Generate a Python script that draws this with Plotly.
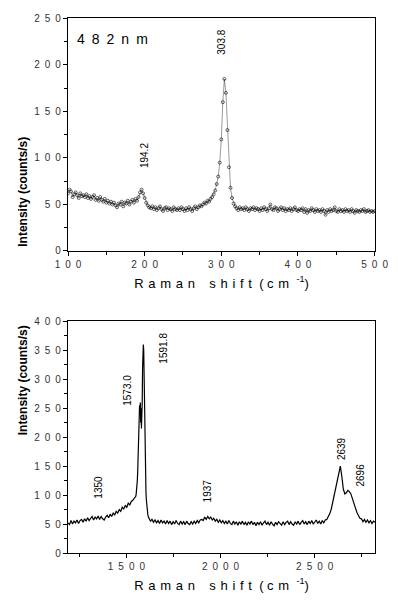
import plotly.graph_objects as go

# ---------------- data: top panel (482 nm) ----------------
top_x = list(range(100, 501, 2))
top_y = [
    62, 66, 64, 58, 61, 63, 60, 57, 62, 59, 60, 58, 61, 57, 59, 56, 58, 60, 55, 57, 54, 58, 55, 53, 56,
    52, 54, 51, 53, 50, 52, 49, 47, 51, 50, 53, 48, 52, 51, 54, 50, 53, 55, 52, 56, 54, 58, 63, 66, 62,
    57, 52, 49, 47, 46, 48, 45, 47, 44, 46, 48, 45, 43, 46, 47, 44, 46, 45, 43, 47, 45, 44, 46, 44, 47,
    45, 43, 46, 44, 47, 45, 43, 46, 48, 45, 47, 49, 48, 50, 52, 51, 54, 53, 56, 58, 61, 65, 72, 80, 95,
    120, 160, 185, 170, 130, 90, 68, 57, 51, 48, 46, 44, 47, 45, 46, 44, 47, 45, 43, 46, 45, 47, 44, 46, 45,
    43, 46, 44, 47, 45, 43, 46, 50, 45, 44, 47, 46, 43, 45, 47, 44, 46, 43, 45, 44, 46, 43, 45, 47, 44,
    43, 45, 44, 46, 42, 45, 41, 44, 43, 46, 44, 42, 45, 43, 44, 42, 45, 43, 39, 44, 42, 45, 43, 44, 47,
    43, 42, 45, 43, 44, 42, 45, 43, 44, 42, 45, 43, 41, 44, 43, 42, 44, 43, 45, 42, 43, 44, 42, 43, 42, 43,
]

# ---------------- data: bottom panel ----------------
bot_x = list(range(1190, 1543, 8)) + list(range(1550, 1619, 2)) + list(range(1620, 2821, 8))
bot_y = [
    # 1190 - 1542
    52, 49, 56, 50, 55, 52, 57, 51, 56, 58, 53, 59, 55, 61, 56, 60, 63, 57, 62, 59, 64, 58, 63,
    59, 57, 62, 65, 61, 67, 63, 69, 66, 72, 69, 75, 72, 79, 76, 82, 79, 86, 83, 89, 91, 94,
    # 1550 - 1618
    98, 102, 108, 115, 125, 140, 165, 200, 230, 248, 255, 240, 260, 225, 250, 215, 230, 260,
    320, 340, 360, 350, 310, 250, 190, 150, 125, 105, 92, 82, 75, 70, 66, 63, 61,
    # 1620 - 2820
    59, 55, 58, 53, 57, 52, 56, 51, 57, 52, 55,
    50, 56, 51, 55, 49, 54, 50, 56, 51, 49,
    55, 50, 54, 49, 55, 51, 49, 54, 50, 55,
    51, 56, 52, 57, 58, 56, 62, 58, 63, 59,
    62, 57, 60, 55, 58, 53, 57, 52, 56, 51,
    55, 50, 56, 51, 49, 55, 50, 54, 48, 54,
    50, 55, 49, 53, 48, 54, 50, 55, 49, 53,
    47, 53, 49, 54, 48, 52, 55, 49, 53, 48,
    54, 50, 47, 53, 49, 54, 50, 48, 54, 49,
    53, 55, 49, 54, 50, 48, 54, 50, 55, 49,
    53, 56, 50, 54, 49, 55, 51, 56, 50, 54,
    57, 51, 55, 50, 56, 52, 57, 58, 62, 68,
    76, 88, 100, 115, 128, 140, 150, 132, 110, 102,
    104, 108, 106, 102, 95, 86, 78, 70, 64, 60,
    59, 54, 58, 53, 57, 52, 56, 51, 55, 53,
]

top_xticks = [100, 200, 300, 400, 500]
top_yticks = [0, 50, 100, 150, 200, 250]
bot_xticks = [1500, 2000, 2500]
bot_yticks = [0, 50, 100, 150, 200, 250, 300, 350, 400]

top_peaks = [("194.2", 199, 103), ("303.8", 301, 224)]
bot_peaks = [("1573.0", 1506, 281), ("1591.8", 1695, 353), ("1350", 1353, 114),
             ("1937", 1930, 107), ("2639", 2639, 181), ("2696", 2741, 134)]

NB = "\u00a0"
EN = "\u2002"
LS = "\u00a0\u200a"   # letter spacing for axis titles


def spaced(v):
    return EN.join(str(v))


fig = go.Figure()
fig.add_trace(go.Scatter(
    x=top_x, y=top_y, mode="lines+markers", xaxis="x", yaxis="y",
    line=dict(color="black", width=0.4),
    marker=dict(symbol="circle-open", size=3, color="black", line=dict(width=0.6)),
    showlegend=False))
fig.add_trace(go.Scatter(
    x=bot_x, y=bot_y, mode="lines", xaxis="x2", yaxis="y2",
    line=dict(color="black", width=1.2), showlegend=False))

tickfont = dict(family="Liberation Sans, Arial", size=10, color="#333")
axis_common = dict(showline=True, linecolor="black", linewidth=1.3, mirror=True,
                   ticks="outside", ticklen=4, tickcolor="black", tickfont=tickfont,
                   showgrid=False, zeroline=False, ticklabeloverflow="allow")
title_font = dict(family="Liberation Sans, Arial", size=13, color="black")
xtitle = LS.join("Raman") + NB * 4 + LS.join("shift") + NB * 2 + "(" + NB + "c" + LS + "m" + \
    NB * 2 + "<sup>-1</sup>" + ")"

fig.update_layout(
    width=398, height=601, plot_bgcolor="white", paper_bgcolor="white",
    margin=dict(l=68, r=10, t=18, b=48),
    xaxis=dict(domain=[0, 1], range=[100, 500.5], anchor="y",
               tickvals=top_xticks, ticktext=[spaced(v) for v in top_xticks],
               minor=dict(dtick=50, tick0=0, ticks="outside", ticklen=3, tickcolor="black"),
               title=dict(text=xtitle, font=title_font, standoff=9),
               **axis_common),
    yaxis=dict(domain=[0.5645, 1], range=[0, 250.5], anchor="x",
               tickvals=top_yticks, ticktext=[spaced(v) for v in top_yticks],
               minor=dict(dtick=25, tick0=0, ticks="outside", ticklen=3, tickcolor="black"),
               **axis_common),
    xaxis2=dict(domain=[0, 1], range=[1190, 2820], anchor="y2",
                tickvals=bot_xticks, ticktext=[spaced(v) for v in bot_xticks],
                minor=dict(dtick=250, tick0=0, ticks="outside", ticklen=3, tickcolor="black"),
                title=dict(text=xtitle, font=title_font, standoff=9),
                **axis_common),
    yaxis2=dict(domain=[0, 0.4336], range=[0, 400.5], anchor="x2",
                tickvals=bot_yticks, ticktext=[spaced(v) for v in bot_yticks],
                minor=dict(dtick=25, tick0=0, ticks="outside", ticklen=3, tickcolor="black"),
                **axis_common),
)

ann_font = dict(family="Liberation Sans, Arial", size=10, color="black")
for txt, x, y in top_peaks:
    fig.add_annotation(x=x, y=y, xref="x", yref="y", text=txt, textangle=-90,
                       showarrow=False, font=ann_font)
for txt, x, y in bot_peaks:
    fig.add_annotation(x=x, y=y, xref="x2", yref="y2", text=txt, textangle=-90,
                       showarrow=False, font=ann_font)

fig.add_annotation(x=109, y=228, xref="x", yref="y",
                   text=EN.join("482") + EN + EN.join("nm"),
                   showarrow=False, xanchor="left",
                   font=dict(family="Liberation Sans, Arial", size=14, color="black"))

ytitle_font = dict(family="Liberation Sans, Arial", size=12, color="black", weight="bold")
for ypos in [(0.5645 + 1) / 2, 0.4336 / 2]:
    fig.add_annotation(x=-0.175, y=ypos, xref="paper", yref="paper",
                       text="Intensity (counts/s)", textangle=-90, showarrow=False,
                       font=ytitle_font)

fig.write_html("out.html",
               config={"displayModeBar": False},
               post_script="document.body.style.margin='0';document.body.style.overflow='hidden';")
